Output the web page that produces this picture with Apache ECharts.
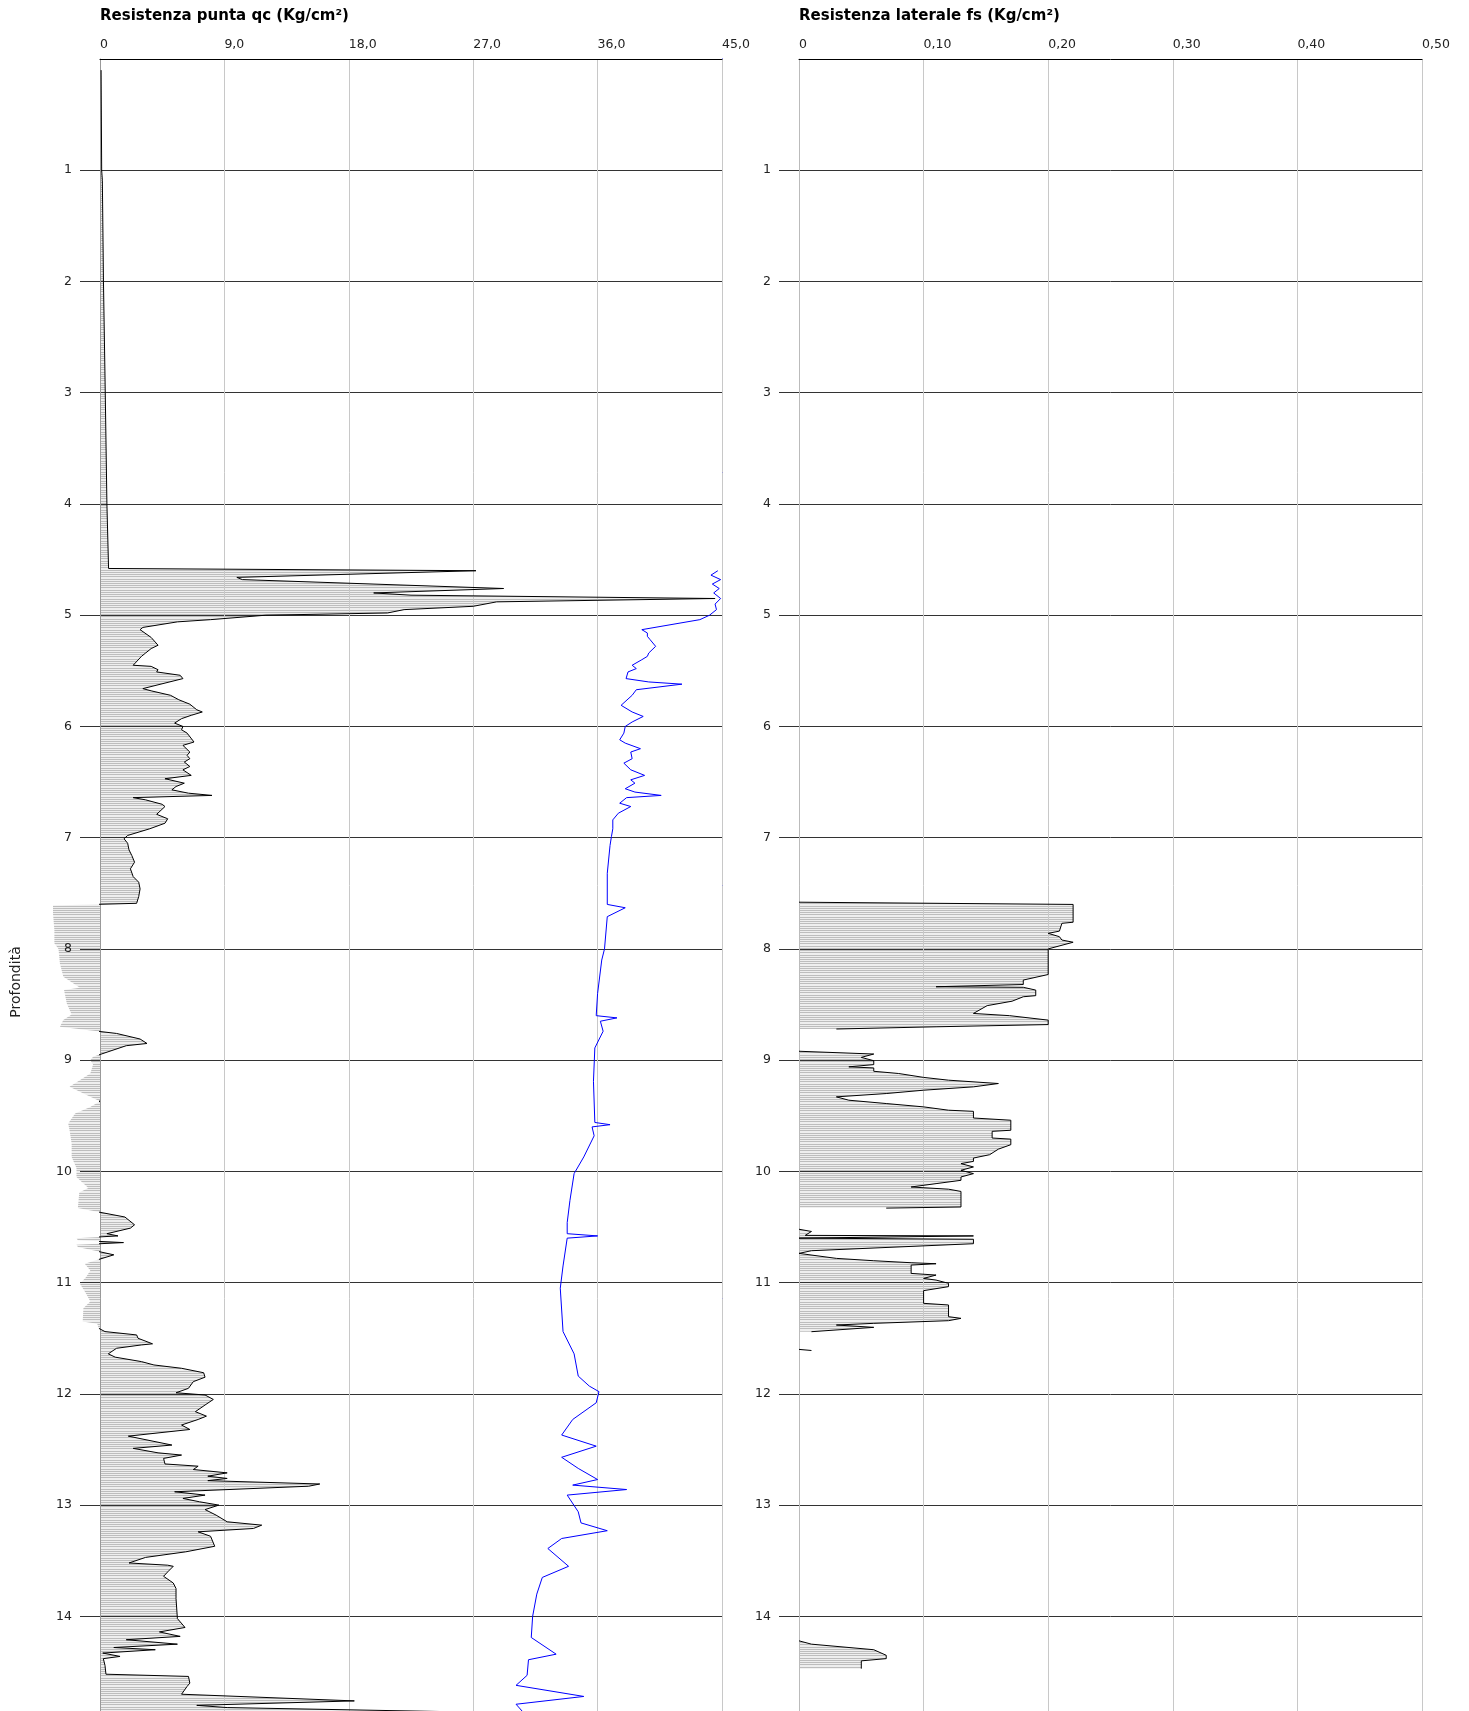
<!DOCTYPE html>
<html>
<head>
<meta charset="utf-8">
<title>Prova penetrometrica</title>
<script src="https://cdn.jsdelivr.net/npm/echarts@6/dist/echarts.min.js"></script>
<style>
  html, body { margin: 0; padding: 0; background: #ffffff; }
  #chart { width: 1469px; height: 1711px; }
</style>
</head>
<body>
<div id="chart"></div>
<script>
// Resistenza alla punta qc (Kg/cm²) per profondità (m)
const qcDepth = [
  0.10, 1.00, 1.09, 2.00, 3.00, 4.00, 4.58, 4.60, 4.66, 4.68, 4.76, 4.80, 4.82, 4.85, 4.88, 4.92, 4.95, 4.98,
  5.00, 5.04, 5.06, 5.11, 5.13, 5.20, 5.27, 5.30, 5.34, 5.37, 5.45, 5.46, 5.49, 5.51, 5.54, 5.57, 5.66, 5.68,
  5.72, 5.76, 5.80, 5.85, 5.87, 5.90, 5.93, 5.97, 6.00, 6.03, 6.06, 6.14, 6.17, 6.23, 6.26, 6.29, 6.32, 6.36,
  6.39, 6.44, 6.47, 6.51, 6.54, 6.57, 6.60, 6.62, 6.64, 6.66, 6.70, 6.72, 6.79, 6.83, 6.87, 6.92, 6.98, 7.01,
  7.05, 7.11, 7.16, 7.22, 7.28, 7.35, 7.40, 7.46, 7.53, 7.59, 7.61, 7.68, 7.83, 7.95, 8.00, 8.13, 8.25, 8.35,
  8.37, 8.49, 8.59, 8.64, 8.70, 8.76, 8.81, 8.85, 8.87, 8.97, 9.00, 9.04, 9.12, 9.24, 9.31, 9.37, 9.42, 9.48,
  9.57, 9.63, 9.75, 9.87, 9.97, 10.05, 10.15, 10.19, 10.33, 10.41, 10.48, 10.51, 10.56, 10.58, 10.60, 10.62,
  10.64, 10.66, 10.68, 10.75, 10.83, 10.89, 10.95, 11.01, 11.10, 11.17, 11.23, 11.35, 11.37, 11.41, 11.44,
  11.47, 11.50, 11.55, 11.56, 11.59, 11.64, 11.67, 11.71, 11.74, 11.77, 11.81, 11.85, 11.89, 11.95, 11.99,
  12.01, 12.05, 12.10, 12.16, 12.20, 12.23, 12.28, 12.32, 12.38, 12.46, 12.49, 12.53, 12.55, 12.58, 12.63,
  12.65, 12.68, 12.71, 12.74, 12.76, 12.78, 12.81, 12.83, 12.88, 12.91, 12.94, 12.97, 13.00, 13.04, 13.09,
  13.15, 13.18, 13.21, 13.24, 13.28, 13.37, 13.42, 13.47, 13.52, 13.54, 13.55, 13.60, 13.64, 13.70, 13.75,
  13.84, 14.02, 14.10, 14.14, 14.18, 14.21, 14.25, 14.28, 14.30, 14.33, 14.36, 14.38, 14.44, 14.52, 14.54,
  14.60, 14.63, 14.70, 14.76, 14.80, 14.82, 14.87
];
const qcValue = [
  0.08, 0.12, 0.17, 0.25, 0.38, 0.50, 0.62, 27.2, 9.9, 10.3, 29.2, 19.8, 22.5, 44.5, 28.7, 27.0, 22.0, 20.8,
  12.0, 8.0, 5.6, 3.1, 2.9, 3.7, 4.2, 3.7, 3.3, 3.0, 2.4, 3.7, 4.2, 4.1, 5.8, 6.0, 3.1, 3.7,
  5.1, 5.7, 6.5, 7.0, 7.4, 6.6, 5.9, 5.4, 6.0, 5.9, 6.3, 6.8, 6.0, 6.5, 6.3, 6.5, 6.1, 6.5,
  6.0, 6.6, 4.7, 6.1, 5.5, 5.2, 6.4, 8.1, 2.4, 3.3, 4.5, 4.7, 4.1, 4.9, 4.7, 3.6, 2.0, 1.74,
  2.0, 2.1, 2.3, 2.5, 2.2, 2.4, 2.8, 2.9, 2.8, 2.65, -3.4, -3.4, -3.3, -3.3, -3.0, -2.9, -2.65, -1.45,
  -2.6, -2.4, -2.05, -2.65, -2.9, 1.2, 2.9, 3.4, 1.9, -0.5, -0.7, -0.5, -0.7, -2.2, -1.0, 0.0, -0.7, -1.8,
  -2.3, -2.2, -2.05, -2.05, -1.7, -1.7, -0.84, -1.5, -1.6, 1.8, 2.5, 2.2, 0.5, 1.3, -1.7, -1.6,
  1.7, -1.7, -1.6, 1.0, -1.1, -0.7, -1.0, -1.45, -1.0, -0.7, -1.2, -1.25, -0.2, -0.1, 0.36,
  2.65, 2.75, 3.8, 3.0, 1.2, 0.6, 1.1, 3.0, 3.9, 5.9, 7.5, 7.6, 6.75, 6.4, 5.5,
  7.6, 8.2, 7.6, 6.9, 7.7, 7.1, 5.9, 6.5, 2.05, 5.2, 2.4, 4.2, 5.9, 4.6, 4.7,
  7.1, 6.75, 9.2, 7.8, 9.2, 7.8, 15.9, 15.1, 5.4, 7.6, 6.0, 7.2, 8.6, 7.6, 8.4,
  9.2, 11.7, 11.1, 7.1, 8.0, 8.3, 6.2, 3.3, 2.1, 4.9, 5.3, 4.9, 4.6, 5.3, 5.5,
  5.5, 5.6, 6.15, 4.3, 5.8, 1.9, 5.6, 1.0, 4.0, 0.2, 1.45, 0.24, 0.36, 0.43, 6.4,
  6.5, 6.3, 5.9, 18.4, 7.0, 9.2, 31.0
];

// Traccia blu sulla stessa scala di qc
const secondaryDepth = [
  4.60, 4.64, 4.68, 4.72, 4.76, 4.80, 4.85, 4.90, 4.95, 5.00, 5.04, 5.13, 5.16, 5.19, 5.22, 5.28, 5.34, 5.37,
  5.40, 5.45, 5.48, 5.51, 5.57, 5.60, 5.62, 5.67, 5.72, 5.81, 5.87, 5.91, 5.96, 6.00, 6.06, 6.12, 6.15, 6.20,
  6.23, 6.29, 6.33, 6.39, 6.44, 6.48, 6.51, 6.56, 6.59, 6.62, 6.64, 6.69, 6.72, 6.78, 6.84, 6.92, 6.99, 7.07,
  7.32, 7.60, 7.63, 7.71, 8.00, 8.10, 8.40, 8.60, 8.62, 8.65, 8.74, 8.89, 9.19, 9.56, 9.58, 9.60, 9.68, 9.87,
  10.02, 10.26, 10.46, 10.56, 10.58, 10.60, 10.85, 11.05, 11.44, 11.64, 11.84, 11.93, 11.98, 12.08, 12.23,
  12.37, 12.47, 12.57, 12.67, 12.77, 12.82, 12.86, 12.91, 13.06, 13.16, 13.23, 13.30, 13.39, 13.55, 13.65,
  13.80, 14.00, 14.19, 14.34, 14.39, 14.53, 14.62, 14.72, 14.79, 14.86
];
const secondaryValue = [
  44.7, 44.2, 44.9, 44.3, 44.8, 44.4, 44.9, 44.5, 44.6, 44.1, 43.4, 39.2, 39.6, 39.6, 39.8, 40.2, 39.7, 39.6,
  39.2, 38.5, 38.8, 38.2, 38.06, 39.7, 42.1, 38.8, 38.5, 37.7, 38.5, 39.3, 38.5, 38.0, 37.9, 37.6, 38.0, 39.1,
  38.4, 38.5, 37.9, 38.4, 39.4, 38.4, 38.7, 38.0, 38.7, 40.6, 38.1, 37.6, 38.4, 37.5, 37.1, 37.1, 37.0, 36.9,
  36.7, 36.7, 38.0, 36.7, 36.5, 36.3, 36.0, 35.9, 37.4, 36.2, 36.4, 35.8, 35.7, 35.8, 36.9, 35.6, 35.75, 35.0,
  34.3, 34.0, 33.8, 33.8, 36.0, 33.8, 33.5, 33.3, 33.5, 34.3, 34.6, 35.4, 36.1, 35.9, 34.2,
  33.4, 35.9, 33.4, 34.6, 36.0, 34.2, 38.1, 33.8, 34.6, 34.8, 36.7, 33.4, 32.4, 33.9, 32.0,
  31.6, 31.3, 31.2, 33.0, 31.0, 30.9, 30.1, 35.0, 30.1, 30.6
];

// Resistenza laterale fs (Kg/cm²); null separa i tratti senza lettura
const fsDepth = [
  7.58, 7.60, 7.76, 7.77, 7.84, 7.86, 7.89, 7.92, 7.94, 8.00, 8.23, 8.28, 8.32, 8.34, 8.345, 8.37, 8.42, 8.43,
  8.47, 8.51, 8.58, 8.60, 8.64, 8.68, 8.70, 8.72, 8.80,
  8.92, 8.945, 8.975, 9.005, 9.04, 9.06, 9.07, 9.10, 9.12, 9.155, 9.18, 9.21, 9.24, 9.27, 9.30, 9.33, 9.36,
  9.39, 9.42, 9.45, 9.46, 9.52, 9.54, 9.63, 9.64, 9.70, 9.71, 9.76, 9.80, 9.85, 9.88, 9.91, 9.93, 9.96, 9.99,
  10.02, 10.05, 10.08, 10.11, 10.14, 10.16, 10.18, 10.32, 10.33, 10.45,
  10.52, 10.54, 10.575, 10.58, 10.60, 10.61, 10.65, 10.713, 10.737, 10.782, 10.803, 10.821, 10.83, 10.842,
  10.917, 10.932, 10.962, 10.977, 11.006, 11.036, 11.072, 11.186, 11.201, 11.306, 11.321, 11.342, 11.366,
  11.381, 11.402, 11.441, 11.52,
  11.60, 11.61, 11.70,
  14.22, 14.25, 14.30, 14.35, 14.38, 14.40, 14.47
];
const fsValue = [
  0.000, 0.220, 0.220, 0.211, 0.209, 0.200, 0.209, 0.211, 0.220, 0.200, 0.200, 0.180, 0.180, 0.110, 0.180, 0.190, 0.190, 0.180,
  0.171, 0.151, 0.140, 0.169, 0.200, 0.200, 0.110, 0.030, null,
  0.000, 0.060, 0.050, 0.060, 0.060, 0.040, 0.060, 0.060, 0.080, 0.100, 0.120, 0.160, 0.140, 0.100, 0.070, 0.030, 0.040,
  0.070, 0.100, 0.120, 0.140, 0.140, 0.170, 0.170, 0.155, 0.155, 0.170, 0.170, 0.160, 0.153, 0.140, 0.140, 0.130, 0.140, 0.130,
  0.140, 0.130, 0.130, 0.110, 0.090, 0.120, 0.130, 0.130, 0.070, null,
  0.000, 0.010, 0.005, 0.140, 0.000, 0.140, 0.140, 0.010, 0.000, 0.030, 0.060, 0.090, 0.110, 0.090,
  0.090, 0.110, 0.100, 0.110, 0.120, 0.120, 0.100, 0.100, 0.120, 0.120, 0.130, 0.120, 0.060,
  0.030, 0.060, 0.010, null,
  0.000, 0.010, null,
  0.000, 0.010, 0.060, 0.070, 0.070, 0.050, 0.050
];

const depthTicks = [1, 2, 3, 4, 5, 6, 7, 8, 9, 10, 11, 12, 13, 14];

const FONT = 'DejaVu Sans';

function pairs(values, depths) {
  return values.map((v, i) => [v, depths[i]]);
}

// Horizontal line hatching used to fill each profile (one line per 2 cm of depth)
function makeHatch() {
  const c = document.createElement('canvas');
  c.width = 4;
  c.height = 89;
  const g = c.getContext('2d');
  g.fillStyle = '#eeeeee';
  g.fillRect(0, 0, 4, 89);
  g.fillStyle = '#bdbdbd';
  for (let i = 0; i < 40; i++) g.fillRect(0, Math.round(i * 2.225), 4, 1);
  return c;
}
const hatch = { image: makeHatch(), repeat: 'repeat' };

// Polygon between the profile and the zero line, one per continuous run of readings
function fillRenderer(values, depths) {
  return function (params, api) {
    const children = [];
    let run = [];
    const flush = () => {
      if (run.length > 1) {
        const pts = [api.coord([0, run[0][1]])]
          .concat(run.map(p => api.coord(p)))
          .concat([api.coord([0, run[run.length - 1][1]])]);
        children.push({ type: 'polygon', shape: { points: pts }, style: { fill: hatch, stroke: null } });
      }
      run = [];
    };
    values.forEach((v, i) => {
      if (v === null) flush();
      else run.push([v, depths[i]]);
    });
    flush();
    return { type: 'group', children: children };
  };
}

function topAxis(gridIndex, max, interval, digits) {
  return {
    gridIndex: gridIndex,
    type: 'value',
    position: 'top',
    min: 0,
    max: max,
    interval: interval,
    z: 2,
    axisLine: { show: true, onZero: false, lineStyle: { color: '#000', width: 1 } },
    axisTick: { show: false },
    axisLabel: {
      align: 'left',
      margin: 8,
      fontSize: 12.5,
      fontFamily: FONT,
      color: '#222',
      formatter: v => (v === 0 ? '0' : v.toFixed(digits).replace('.', ','))
    },
    splitLine: { show: true, lineStyle: { color: '#c8c8c8', width: 1 } }
  };
}

function depthAxis(gridIndex, lineColor) {
  return {
    gridIndex: gridIndex,
    type: 'value',
    inverse: true,
    min: 0,
    max: 15,
    interval: 1,
    z: 2,
    axisLine: { show: true, onZero: false, lineStyle: { color: lineColor, width: 1 } },
    axisTick: { show: true, length: 20, customValues: depthTicks, lineStyle: { color: '#333', width: 1 } },
    axisLabel: {
      margin: 28,
      fontSize: 12.5,
      fontFamily: FONT,
      color: '#222',
      customValues: depthTicks,
      formatter: v => (v >= 1 && v <= 14 ? String(v) : '')
    },
    splitLine: { show: true, lineStyle: { color: '#333', width: 1 } }
  };
}

const chart = echarts.init(document.getElementById('chart'), null, { renderer: 'canvas' });

chart.setOption({
  animation: false,
  backgroundColor: '#ffffff',
  grid: [
    { left: 100, top: 59, width: 622, height: 1668.6, containLabel: false, outerBoundsMode: 'none' },
    { left: 799, top: 59, width: 623, height: 1668.6, containLabel: false, outerBoundsMode: 'none' }
  ],
  graphic: [
    {
      type: 'text', x: 100, y: 16,
      style: {
        text: 'Resistenza punta qc (Kg/cm²)', font: 'bold 15px "DejaVu Sans"', fill: '#000',
        textVerticalAlign: 'middle'
      }
    },
    {
      type: 'text', x: 799, y: 16,
      style: {
        text: 'Resistenza laterale fs (Kg/cm²)', font: 'bold 15px "DejaVu Sans"', fill: '#000',
        textVerticalAlign: 'middle'
      }
    },
    {
      type: 'text', x: 16, y: 982, rotation: Math.PI / 2,
      style: {
        text: 'Profondità', font: '14px "DejaVu Sans"', fill: '#222',
        textAlign: 'center', textVerticalAlign: 'middle'
      }
    }
  ],
  xAxis: [
    topAxis(0, 45, 9, 1),
    topAxis(1, 0.5, 0.1, 2)
  ],
  yAxis: [
    depthAxis(0, '#999'),
    {
      gridIndex: 0, type: 'value', inverse: true, min: 0, max: 15, position: 'right',
      axisLine: { show: true, onZero: false, lineStyle: { color: '#0000ff', width: 1 } },
      axisTick: { show: false }, axisLabel: { show: false }, splitLine: { show: false }
    },
    depthAxis(1, '#bbbbbb')
  ],
  series: [
    {
      type: 'custom', xAxisIndex: 0, yAxisIndex: 0, z: 1, silent: true,
      data: [[0, 0]],
      renderItem: fillRenderer(qcValue, qcDepth)
    },
    {
      type: 'line', name: 'qc', xAxisIndex: 0, yAxisIndex: 0, z: 3, clip: false,
      showSymbol: false, silent: true,
      lineStyle: { color: '#000', width: 1 },
      data: pairs(qcValue, qcDepth)
    },
    {
      type: 'line', name: 'traccia', xAxisIndex: 0, yAxisIndex: 0, z: 3, clip: false,
      showSymbol: false, silent: true,
      lineStyle: { color: '#0000ff', width: 1 },
      data: pairs(secondaryValue, secondaryDepth)
    },
    {
      type: 'custom', xAxisIndex: 1, yAxisIndex: 2, z: 1, silent: true,
      data: [[0, 0]],
      renderItem: fillRenderer(fsValue, fsDepth)
    },
    {
      type: 'line', name: 'fs', xAxisIndex: 1, yAxisIndex: 2, z: 3, clip: false,
      showSymbol: false, silent: true, connectNulls: false,
      lineStyle: { color: '#000', width: 1 },
      data: pairs(fsValue, fsDepth)
    }
  ]
});
</script>
</body>
</html>
